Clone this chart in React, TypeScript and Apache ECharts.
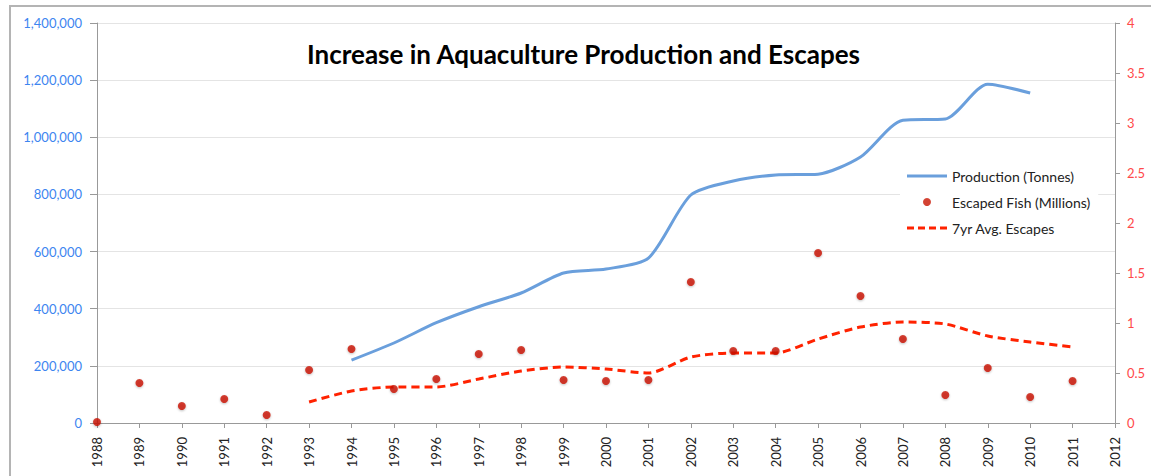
import React, { useEffect, useRef } from "react";
import * as echarts from "echarts";

const years = ["1988","1989","1990","1991","1992","1993","1994","1995","1996","1997","1998","1999","2000","2001","2002","2003","2004","2005","2006","2007","2008","2009","2010","2011","2012"];

const production = [null, null, null, null, null, null, 220000, 280000, 351000, 407000, 455000, 525000, 539000, 577000, 798000, 847000, 868000, 871000, 931000, 1060000, 1064000, 1186000, 1155000, null, null];

const escaped = [0.01, 0.40, 0.17, 0.24, 0.08, 0.53, 0.74, 0.34, 0.44, 0.69, 0.73, 0.43, 0.42, 0.43, 1.41, 0.72, 0.72, 1.70, 1.27, 0.84, 0.28, 0.55, 0.26, 0.42, null];

const avgEscapes = [null, null, null, null, null, 0.21, 0.32, 0.36, 0.36, 0.44, 0.52, 0.56, 0.54, 0.50, 0.66, 0.70, 0.70, 0.84, 0.96, 1.01, 0.99, 0.87, 0.81, 0.76, null];

const leftTicks = { min: 0, max: 1400000, interval: 200000 };
const rightTicks = { min: 0, max: 4, interval: 0.5 };

const FONT = "Lato";

const solidIcon = "path://M0,0L40,0L40,3L0,3Z";
const dashIcon = "path://M0,0h7v3h-7zM11,0h7v3h-7zM22,0h7v3h-7zM33,0h7v3h-7z";

export default function App() {
  const ref = useRef<HTMLDivElement>(null);
  useEffect(() => {
    if (!ref.current) return;
    const chart = echarts.init(ref.current, null, { renderer: "svg" });
    chart.setOption({
      animation: false,
      backgroundColor: "#fff",
      textStyle: { fontFamily: FONT },
      title: {
        text: "Increase in Aquaculture Production and Escapes",
        left: 307,
        top: 41,
        padding: 0,
        textStyle: { fontFamily: FONT, fontSize: 26, fontWeight: "bold", color: "#000" },
      },
      graphic: [
        {
          type: "rect",
          shape: { x: 10, y: 6, width: 1200, height: 520 },
          style: { fill: "none", stroke: "#b4b4b4", lineWidth: 2 },
          silent: true,
          z: -1,
        },
      ],
      legend: {
        orient: "vertical",
        left: 900,
        top: 163,
        padding: [6, 8, 6, 7],
        backgroundColor: "#fff",
        itemWidth: 40,
        itemHeight: 8,
        itemGap: 12,
        textStyle: { fontFamily: FONT, fontSize: 14, color: "#222" },
        data: [
          { name: "Production (Tonnes)", icon: solidIcon, itemStyle: { color: "#6a9fdc" } },
          { name: "Escaped Fish (Millions)", icon: "circle" },
          { name: "7yr Avg. Escapes", icon: dashIcon, itemStyle: { color: "#ff2200" } },
        ],
      },
      grid: { left: 97, right: 36, top: 23, bottom: 53 },
      xAxis: {
        type: "category",
        data: years,
        boundaryGap: false,
        axisLine: { lineStyle: { color: "#999", width: 1 } },
        axisTick: { show: true, length: 5, alignWithLabel: true, lineStyle: { color: "#999" } },
        axisLabel: { rotate: 90, fontSize: 13, color: "#222", fontFamily: FONT, margin: 14, interval: 0 },
      },
      yAxis: [
        {
          type: "value",
          ...leftTicks,
          position: "left",
          axisLine: { show: true, lineStyle: { color: "#999" } },
          axisTick: { show: true, length: 7, lineStyle: { color: "#999" } },
          axisLabel: {
            color: "#3d85f0",
            fontSize: 13,
            fontFamily: FONT,
            margin: 15,
            formatter: (v: number) => v.toLocaleString("en-US"),
          },
          splitLine: { show: true, lineStyle: { color: "#e4e4e4", width: 1 } },
        },
        {
          type: "value",
          ...rightTicks,
          position: "right",
          axisLine: { show: true, lineStyle: { color: "#999" } },
          axisTick: { show: true, length: 5, lineStyle: { color: "#999" } },
          axisLabel: { color: "#ff4a4a", fontSize: 13, fontFamily: FONT, margin: 12 },
          splitLine: { show: false },
        },
      ],
      series: [
        {
          name: "Production (Tonnes)",
          type: "line",
          yAxisIndex: 0,
          data: production,
          symbol: "none",
          smooth: 0.25,
          lineStyle: { color: "#6a9fdc", width: 3 },
          itemStyle: { color: "#6a9fdc" },
          z: 3,
        },
        {
          name: "Escaped Fish (Millions)",
          type: "scatter",
          yAxisIndex: 1,
          data: escaped,
          symbol: "circle",
          symbolSize: 8,
          itemStyle: { color: "#c81400", shadowColor: "rgba(0,0,0,0.3)", shadowBlur: 2, shadowOffsetY: 1 },
          z: 4,
        },
        {
          name: "7yr Avg. Escapes",
          type: "line",
          yAxisIndex: 1,
          data: avgEscapes,
          symbol: "none",
          smooth: 0.25,
          lineStyle: { color: "#ff2200", width: 3, type: [8, 5] },
          itemStyle: { color: "#ff2200" },
          z: 3,
        },
      ],
    });
    return () => chart.dispose();
  }, []);
  return (
    <div
      ref={ref}
      style={{ position: "fixed", left: 0, top: 0, width: 1151, height: 476 }}
    />
  );
}
